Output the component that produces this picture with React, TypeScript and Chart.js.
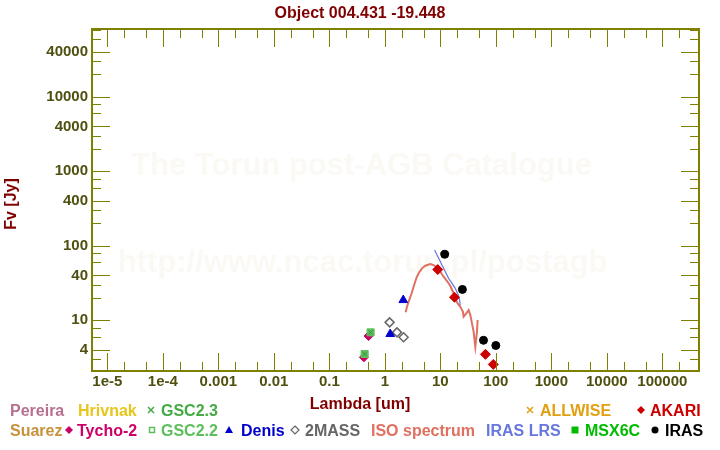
import React, { useEffect, useRef } from "react";
import { Chart, registerables } from "chart.js";

Chart.register(...registerables);

// ---------- text ----------
const TITLE = "Object 004.431 -19.448";
const X_TITLE = "Lambda [um]";
const Y_TITLE = "Fv [Jy]";
const WATERMARK_1 = "The Torun post-AGB Catalogue";
const WATERMARK_2 = "http://www.ncac.torun.pl/postagb";

// ---------- axes ----------
const xTickValues = [1e-5, 1e-4, 1e-3, 1e-2, 0.1, 1, 10, 100, 1000, 1e4, 1e5];
const xTickLabels = ["1e-5", "1e-4", "0.001", "0.01", "0.1", "1", "10", "100", "1000", "10000", "100000"];
const xMinorFactors = [2, 5];
const yTickValues = [4, 10, 40, 100, 400, 1000, 4000, 10000, 40000];
const yTickLabels = ["4", "10", "40", "100", "400", "1000", "4000", "10000", "40000"];
const yMinorFactors = [2, 3, 6, 8];
const X_MIN = 5.3e-6;
const X_MAX = 4.58e5;
const Y_MIN = 2.09;
const Y_MAX = 81300;

// ---------- data ----------
const irasX = [12, 25, 60, 100];
const irasY = [77, 26, 5.4, 4.6];
const akariX = [9, 18, 65, 90];
const akariY = [48, 20.4, 3.5, 2.56];
const denisX = [1.25, 2.15];
const denisY = [6.55, 18.7];
const twoMassX = [1.22, 1.66, 2.18];
const twoMassY = [9.4, 6.9, 5.92];
const tychoX = [0.42, 0.51];
const tychoY = [3.19, 6.16];
const gsc22X = [0.433, 0.555];
const gsc22Y = [3.53, 6.9];
const gsc23X = [0.433, 0.555];
const gsc23Y = [3.53, 6.9];
const isoX = [2.37, 2.51, 2.69, 2.97, 3.3, 3.69, 4.06, 4.68, 5.37, 6.6, 7.57, 8.72, 10.0, 11.47, 13.2, 15.1, 16.9, 18.6, 20.5, 22.9, 25.6, 26.3, 29.4, 32.4, 34.7, 37.2, 39.8, 42.7, 45.8, 47.0];
const isoY = [12.8, 15.2, 17.8, 21.9, 28.2, 36.6, 42.8, 49.9, 54.1, 57.0, 55.2, 50.8, 44.9, 38.5, 33.7, 29.1, 24.2, 19.7, 16.9, 15.2, 13.0, 11.2, 12.4, 13.7, 11.8, 9.1, 7.03, 4.42, 7.03, 10.1];
const lrsX = [7.89, 8.72, 9.71, 10.7, 12.3, 14.1, 16.3, 18.6, 20.5, 22.3, 22.9];
const lrsY = [87.8, 75.2, 64.5, 55.2, 44.9, 36.6, 31.4, 26.9, 23.0, 18.7, 16.0];

// ---------- colours ----------
const AXIS_COLOR = "#808000";
const TICK_TEXT = "#4f4f0f";
const TITLE_COLOR = "#800000";
const FONT = "'Liberation Sans', Arial, sans-serif";

const C = {
  pereira: "#b87090",
  hrivnak: "#e6c619",
  gsc23: "#44aa44",
  allwise: "#e0a010",
  akari: "#cc0000",
  suarez: "#c8913a",
  tycho: "#cc0066",
  gsc22: "#5cbf5c",
  denis: "#0000cc",
  twoMass: "#666666",
  iso: "#e07060",
  lrs: "#6677dd",
  msx: "#00bb00",
  iras: "#000000",
};

const pts = (xs: number[], ys: number[]) => xs.map((x, i) => ({ x, y: ys[i] }));

const labelFor = (values: number[], labels: string[]) => (v: any) => {
  const n = Number(v);
  const i = values.findIndex((t) => Math.abs(Math.log10(t) - Math.log10(n)) < 1e-6);
  return i >= 0 ? labels[i] : "";
};

function tickList(min: number, max: number, majors: number[], factors: number[]) {
  const out: { v: number; long: boolean }[] = [];
  const lo = Math.floor(Math.log10(min)) - 1;
  const hi = Math.ceil(Math.log10(max)) + 1;
  for (let e = lo; e <= hi; e++) {
    const base = Math.pow(10, e);
    for (const f of factors) {
      const v = f * base;
      if (v >= min && v <= max) out.push({ v, long: false });
    }
  }
  for (const v of majors) if (v >= min && v <= max) out.push({ v, long: true });
  return out;
}

type Shape = "cross" | "diamond" | "openSquare" | "triangle" | "openDiamond" | "square" | "circle";

function drawShape(ctx: CanvasRenderingContext2D, shape: Shape, cx: number, cy: number, color: string) {
  ctx.save();
  ctx.fillStyle = color;
  ctx.strokeStyle = color;
  ctx.lineWidth = 1.5;
  ctx.beginPath();
  if (shape === "cross") {
    ctx.moveTo(cx - 3, cy - 3);
    ctx.lineTo(cx + 3, cy + 3);
    ctx.moveTo(cx + 3, cy - 3);
    ctx.lineTo(cx - 3, cy + 3);
    ctx.stroke();
  } else if (shape === "diamond" || shape === "openDiamond") {
    ctx.moveTo(cx, cy - 4);
    ctx.lineTo(cx + 4, cy);
    ctx.lineTo(cx, cy + 4);
    ctx.lineTo(cx - 4, cy);
    ctx.closePath();
    if (shape === "diamond") ctx.fill();
    else {
      ctx.lineWidth = 1.2;
      ctx.stroke();
    }
  } else if (shape === "openSquare") {
    ctx.lineWidth = 1.5;
    ctx.rect(cx - 2.5, cy - 2.5, 5, 5);
    ctx.stroke();
  } else if (shape === "square") {
    ctx.rect(cx - 3.5, cy - 3.5, 7, 7);
    ctx.fill();
  } else if (shape === "triangle") {
    ctx.moveTo(cx, cy - 4);
    ctx.lineTo(cx + 4, cy + 3);
    ctx.lineTo(cx - 4, cy + 3);
    ctx.closePath();
    ctx.fill();
  } else if (shape === "circle") {
    ctx.arc(cx, cy, 3.5, 0, Math.PI * 2);
    ctx.fill();
  }
  ctx.restore();
}

type LegendItem = { text: string; color: string; x: number; row: number; shape?: Shape; mx?: number };

const legendItems: LegendItem[] = [
  { text: "Pereira", color: C.pereira, x: 10, row: 0 },
  { text: "Hrivnak", color: C.hrivnak, x: 78, row: 0 },
  { text: "GSC2.3", color: C.gsc23, x: 161, row: 0, shape: "cross", mx: 151 },
  { text: "ALLWISE", color: C.allwise, x: 540, row: 0, shape: "cross", mx: 530 },
  { text: "AKARI", color: C.akari, x: 650, row: 0, shape: "diamond", mx: 641 },
  { text: "Suarez", color: C.suarez, x: 10, row: 1 },
  { text: "Tycho-2", color: C.tycho, x: 77, row: 1, shape: "diamond", mx: 69 },
  { text: "GSC2.2", color: C.gsc22, x: 161, row: 1, shape: "openSquare", mx: 152 },
  { text: "Denis", color: C.denis, x: 241, row: 1, shape: "triangle", mx: 229 },
  { text: "2MASS", color: C.twoMass, x: 305, row: 1, shape: "openDiamond", mx: 295 },
  { text: "ISO spectrum", color: C.iso, x: 371, row: 1 },
  { text: "IRAS LRS", color: C.lrs, x: 486, row: 1 },
  { text: "MSX6C", color: C.msx, x: 585, row: 1, shape: "square", mx: 575 },
  { text: "IRAS", color: C.iras, x: 665, row: 1, shape: "circle", mx: 655 },
];
const LEGEND_BASELINES = [416, 436];
const LEGEND_MARK_Y = [410, 430];

const decorPlugin = {
  id: "decor",
  beforeDatasetsDraw(chart: any) {
    const { ctx, chartArea } = chart;
    const cx = (chartArea.left + chartArea.right) / 2;
    ctx.save();
    ctx.fillStyle = "#fbf9f4";
    ctx.font = `bold 31px ${FONT}`;
    ctx.textAlign = "center";
    ctx.textBaseline = "alphabetic";
    ctx.fillText(WATERMARK_1, cx - 34, 175);
    ctx.fillText(WATERMARK_2, cx - 33, 272);
    ctx.restore();
  },
  afterDraw(chart: any) {
    const { ctx, chartArea } = chart;
    const { left, right, top, bottom } = chartArea;
    const xs = chart.scales.x;
    const ys = chart.scales.y;
    ctx.save();
    // ticks on all four sides, pointing inward
    ctx.strokeStyle = AXIS_COLOR;
    ctx.lineWidth = 1;
    ctx.beginPath();
    for (const t of tickList(X_MIN, X_MAX, xTickValues, xMinorFactors)) {
      const px = Math.round(xs.getPixelForValue(t.v)) + 0.5;
      const len = t.long ? 18 : 9;
      ctx.moveTo(px, bottom);
      ctx.lineTo(px, bottom - len);
      ctx.moveTo(px, top);
      ctx.lineTo(px, top + len);
    }
    for (const t of tickList(Y_MIN, Y_MAX, yTickValues, yMinorFactors)) {
      const py = Math.round(ys.getPixelForValue(t.v)) + 0.5;
      const len = t.long ? 18 : 9;
      ctx.moveTo(left, py);
      ctx.lineTo(left + len, py);
      ctx.moveTo(right, py);
      ctx.lineTo(right - len, py);
    }
    ctx.stroke();
    ctx.lineWidth = 2;
    ctx.strokeRect(left, top, right - left, bottom - top);

    // title & axis titles
    ctx.fillStyle = TITLE_COLOR;
    ctx.font = `bold 16px ${FONT}`;
    ctx.textAlign = "center";
    ctx.textBaseline = "alphabetic";
    ctx.fillText(TITLE, 360, 18);
    ctx.fillText(X_TITLE, 360, 409);
    ctx.save();
    ctx.translate(16, 204);
    ctx.rotate(-Math.PI / 2);
    ctx.fillText(Y_TITLE, 0, 0);
    ctx.restore();

    // legend
    ctx.textAlign = "left";
    for (const it of legendItems) {
      if (it.shape && it.mx !== undefined) drawShape(ctx, it.shape, it.mx, LEGEND_MARK_Y[it.row], it.color);
      ctx.fillStyle = it.color;
      ctx.font = `bold 16px ${FONT}`;
      ctx.fillText(it.text, it.x, LEGEND_BASELINES[it.row]);
    }
    ctx.restore();
  },
};

export default function App() {
  const ref = useRef<HTMLCanvasElement | null>(null);

  useEffect(() => {
    if (!ref.current) return;
    const tickFont = { family: FONT, size: 15, weight: "bold" as const };
    const chart = new Chart(ref.current, {
      type: "scatter",
      data: {
        datasets: [
          { label: "GSC2.3", data: pts(gsc23X, gsc23Y), pointStyle: "crossRot", pointRadius: 3, borderColor: "#3a8f3a", backgroundColor: "#3a8f3a", borderWidth: 1 },
          { label: "GSC2.2", data: pts(gsc22X, gsc22Y), pointStyle: "rect", pointRadius: 5, borderColor: C.gsc22, backgroundColor: C.gsc22, borderWidth: 1 },
          { label: "Tycho-2", data: pts(tychoX, tychoY), pointStyle: "rectRot", pointRadius: 4.5, borderColor: C.tycho, backgroundColor: C.tycho, borderWidth: 1 },
          { label: "IRAS", data: pts(irasX, irasY), pointStyle: "circle", pointRadius: 4, borderColor: C.iras, backgroundColor: C.iras, borderWidth: 1 },
          { label: "AKARI", data: pts(akariX, akariY), pointStyle: "rectRot", pointRadius: 5, borderColor: C.akari, backgroundColor: C.akari, borderWidth: 1 },
          { label: "Denis", data: pts(denisX, denisY), pointStyle: "triangle", pointRadius: 5, borderColor: C.denis, backgroundColor: C.denis, borderWidth: 1 },
          { label: "2MASS", data: pts(twoMassX, twoMassY), pointStyle: "rectRot", pointRadius: 4.5, borderColor: C.twoMass, backgroundColor: "rgba(255,255,255,0)", borderWidth: 1.5 },
          { label: "IRAS LRS", data: pts(lrsX, lrsY), showLine: true, pointRadius: 0, borderColor: C.lrs, backgroundColor: C.lrs, borderWidth: 1.2 },
          { label: "ISO spectrum", data: pts(isoX, isoY), showLine: true, pointRadius: 0, borderColor: C.iso, backgroundColor: C.iso, borderWidth: 2 },
        ] as any,
      },
      options: {
        animation: false,
        responsive: false,
        devicePixelRatio: 1,
        layout: { padding: { top: 29, right: 21, left: 0, bottom: 0 } },
        plugins: { legend: { display: false }, tooltip: { enabled: false }, title: { display: false } },
        scales: {
          x: {
            type: "logarithmic",
            position: "bottom",
            min: X_MIN,
            max: X_MAX,
            bounds: "data",
            grid: { display: false, drawTicks: false },
            border: { display: false },
            ticks: { autoSkip: false, maxRotation: 0, minRotation: 0, padding: 2, color: TICK_TEXT, font: tickFont, callback: labelFor(xTickValues, xTickLabels) },
            afterBuildTicks: (s: any) => { s.ticks = xTickValues.map((v) => ({ value: v })); },
            afterFit: (s: any) => { s.height = 79; },
          },
          y: {
            type: "logarithmic",
            position: "left",
            min: Y_MIN,
            max: Y_MAX,
            bounds: "data",
            grid: { display: false, drawTicks: false },
            border: { display: false },
            ticks: { autoSkip: false, padding: 4, color: TICK_TEXT, font: tickFont, callback: labelFor(yTickValues, yTickLabels) },
            afterBuildTicks: (s: any) => { s.ticks = yTickValues.map((v) => ({ value: v })); },
            afterFit: (s: any) => { s.width = 92; },
          },
        },
      } as any,
      plugins: [decorPlugin],
    });
    return () => chart.destroy();
  }, []);

  return (
    <div style={{ position: "absolute", left: 0, top: 0, width: 720, height: 450, background: "#ffffff" }}>
      <canvas ref={ref} width={720} height={450} style={{ display: "block", width: 720, height: 450 }} />
    </div>
  );
}
